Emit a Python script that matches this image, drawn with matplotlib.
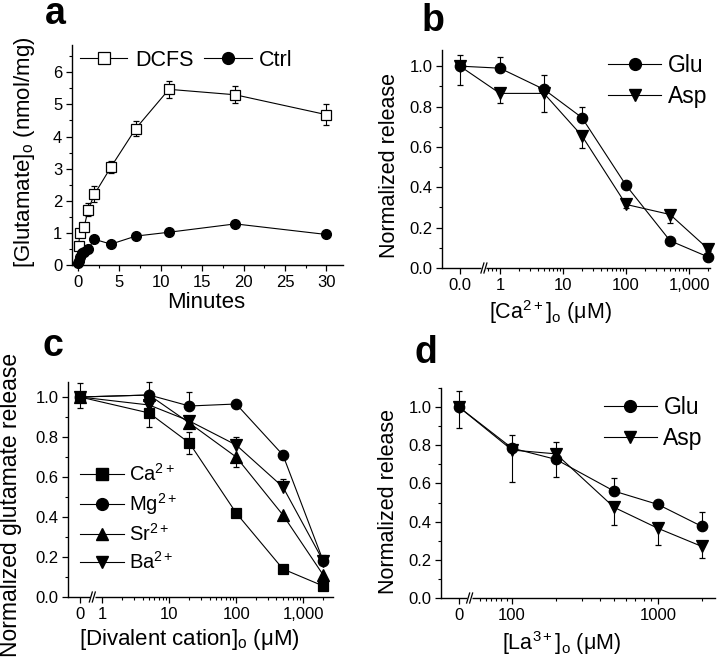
import numpy as np
import matplotlib
matplotlib.use('Agg')
import matplotlib.pyplot as plt
from matplotlib.ticker import FixedLocator, MultipleLocator, FormatStrFormatter, NullFormatter
from matplotlib.lines import Line2D

plt.rcParams['font.family'] = ['Liberation Sans', 'DejaVu Sans']
plt.rcParams['mathtext.fontset'] = 'custom'
plt.rcParams['mathtext.rm'] = 'Liberation Sans'
plt.rcParams['mathtext.it'] = 'Liberation Sans:italic'
plt.rcParams['mathtext.bf'] = 'Liberation Sans:bold'

# ---------------- data ----------------
# panel a
a_dcfs_t = [0.1, 0.25, 0.75, 1.25, 2, 4, 7, 11, 19, 30]
a_dcfs = [0.6, 1.0, 1.17, 1.72, 2.2, 3.05, 4.25, 5.47, 5.3, 4.68]
a_dcfs_err = [0.05, 0.06, 0.1, 0.2, 0.25, 0.18, 0.22, 0.27, 0.27, 0.32]
a_ctrl_t = [0, 0.1, 0.25, 0.5, 0.75, 1.25, 2, 4, 7, 11, 19, 30]
a_ctrl = [0.05, 0.12, 0.25, 0.38, 0.42, 0.5, 0.8, 0.65, 0.9, 1.02, 1.28, 0.95]

# panel b
b_conc = [0, 1, 5, 20, 100, 500, 2000]
b_glu = [1.0, 0.99, 0.885, 0.745, 0.41, 0.135, 0.055]
b_glu_err_up = [0.055, 0.055, 0.07, 0.055, 0.01, 0.01, 0.01]
b_asp = [1.0, 0.865, 0.865, 0.655, 0.315, 0.265, 0.095]
b_asp_err_dn = [0.095, 0.05, 0.09, 0.06, 0.02, 0.04, 0.01]

# panel c
c_conc = [0, 5, 20, 100, 500, 2000]
c_ca = [1.0, 0.92, 0.77, 0.42, 0.14, 0.055]
c_ca_err_dn = [0.055, 0.07, 0.055, 0.0, 0.0, 0.0]
c_ca_err_up = [0.07, 0.0, 0.055, 0.0, 0.0, 0.0]
c_mg = [1.0, 1.01, 0.955, 0.965, 0.71, 0.18]
c_mg_err_dn = [0.0, 0.0, 0.0, 0.0, 0.02, 0.0]
c_mg_err_up = [0.0, 0.065, 0.07, 0.0, 0.02, 0.0]
c_sr = [1.0, 1.01, 0.87, 0.70, 0.41, 0.11]
c_sr_err_dn = [0.0, 0.0, 0.0, 0.05, 0.0, 0.03]
c_sr_err_up = [0.0, 0.0, 0.0, 0.0, 0.0, 0.0]
c_ba = [1.0, 0.96, 0.88, 0.76, 0.55, 0.18]
c_ba_err_dn = [0.0, 0.0, 0.0, 0.0, 0.0, 0.0]
c_ba_err_up = [0.0, 0.0, 0.0, 0.04, 0.04, 0.03]

# panel d
d_conc = [0, 100, 200, 500, 1000, 2000]
d_glu = [1.0, 0.785, 0.726, 0.56, 0.49, 0.375]
d_glu_err_dn = [0.11, 0.0, 0.09, 0.0, 0.0, 0.0]
d_glu_err_up = [0.085, 0.07, 0.09, 0.07, 0.005, 0.075]
d_asp = [1.0, 0.775, 0.755, 0.475, 0.365, 0.27]
d_asp_err_dn = [0.0, 0.165, 0.0, 0.095, 0.085, 0.06]
d_asp_err_up = [0.0, 0.0, 0.0, 0.0, 0.0, 0.0]

# ---------------- figure ----------------
W, H = 720, 659
fig = plt.figure(figsize=(7.2, 6.59), dpi=100)

def axes_px(left, top, right, bottom):
    return fig.add_axes([left / W, 1 - bottom / H, (right - left) / W, (bottom - top) / H])

axA = axes_px(72, 45, 343, 265)
axB = axes_px(442, 50, 710, 268)
axC = axes_px(68, 382, 333, 597)
axD = axes_px(441, 388, 715, 598)

LW = 0.8
TICK_FS = 12
LAB_FS = 15.5
K = 'black'

def style(ax):
    for s in ['top', 'right']:
        ax.spines[s].set_visible(False)
    for s in ['left', 'bottom']:
        ax.spines[s].set_linewidth(1.0)
    ax.tick_params(which='major', direction='out', length=4, width=0.9, labelsize=TICK_FS, pad=3)
    ax.tick_params(which='minor', direction='out', length=2.2, width=0.8)

def xlabel_at(ax, text, fs, xfrac, yfrac):
    ax.set_xlabel(text, fontsize=fs)
    ax.xaxis.set_label_coords(xfrac, yfrac)
    ax.xaxis.label.set_verticalalignment('baseline')

def ebar(ax, x, y, lo, up, marker, ms, mfc='black', z=3):
    ax.errorbar(x, y, yerr=[lo, up], fmt='-', color=K, lw=LW, marker=marker, ms=ms,
                mfc=mfc, mec=K, mew=0.9, ecolor=K, elinewidth=0.8, capsize=2.5,
                capthick=0.8, clip_on=False, zorder=z)

def break_mark(ax, xdata):
    xa = ax.transAxes.inverted().transform(ax.transData.transform((xdata, 0)))[0]
    tr = ax.transAxes
    bb = ax.get_window_extent()
    dx = 3.0 / bb.width
    dy = 5.0 / bb.height
    ax.plot([xa - 2.5 * dx / 3, xa + 2.5 * dx / 3], [0, 0], color='white', lw=2.5,
            transform=tr, clip_on=False, zorder=5, solid_capstyle='butt')
    for off in (-dx / 2, dx / 2):
        ax.plot([xa + off - dx / 2, xa + off + dx / 2], [-dy, dy], color=K, lw=0.9,
                transform=tr, clip_on=False, zorder=6)

# ---- panel a ----
style(axA)
axA.errorbar(a_dcfs_t, a_dcfs, yerr=a_dcfs_err, fmt='-', color=K, lw=LW, marker='s', ms=7,
             mfc='white', mec=K, mew=0.9, ecolor=K, elinewidth=0.8, capsize=2.5,
             capthick=0.8, zorder=3, clip_on=False)
axA.plot(a_ctrl_t, a_ctrl, '-', color=K, lw=LW, marker='o', ms=7, mfc=K, mec=K,
         zorder=4, clip_on=False)
axA.set_xlim(-0.7, 32)
axA.set_ylim(0, 6.85)
axA.xaxis.set_major_locator(FixedLocator([0, 5, 10, 15, 20, 25, 30]))
axA.xaxis.set_minor_locator(MultipleLocator(2.5))
axA.yaxis.set_major_locator(FixedLocator([0, 1, 2, 3, 4, 5, 6]))
axA.yaxis.set_minor_locator(MultipleLocator(0.5))
xlabel_at(axA, 'Minutes', 16, 0.494, -0.195)
axA.set_ylabel(r'[Glutamate]$_\mathregular{o}$ (nmol/mg)', fontsize=16)
axA.yaxis.set_label_coords(-0.13, 0.51)
ha = [Line2D([], [], color=K, lw=LW, marker='s', ms=8, mfc='white', mec=K, mew=0.9),
      Line2D([], [], color=K, lw=LW, marker='o', ms=8.5, mfc=K, mec=K)]
axA.legend(ha, ['DCFS', 'Ctrl'], ncol=2, loc='center left', bbox_to_anchor=(0.03, 0.93),
           frameon=False, fontsize=15.5, handlelength=2.2, handletextpad=0.35,
           columnspacing=0.5, borderpad=0, borderaxespad=0)

# ---- panel b ----
style(axB)
axB.set_xscale('symlog', linthresh=1, linscale=0.57)
axB.set_xlim(-0.45, 2150)
axB.set_ylim(0, 1.08)
ebar(axB, b_conc, b_glu, [0] * 7, b_glu_err_up, 'o', 7.5)
ebar(axB, b_conc, b_asp, b_asp_err_dn, [0] * 7, 'v', 8)
axB.xaxis.set_major_locator(FixedLocator([0, 1, 10, 100, 1000]))
axB.set_xticklabels(['0.0', '1', '10', '100', '1,000'])
axB.xaxis.set_minor_locator(FixedLocator([0.6, 0.7, 0.8, 0.9] + list(range(2, 10)) +
                                         list(range(20, 100, 10)) + list(range(200, 1000, 100)) + [2000]))
axB.xaxis.set_minor_formatter(NullFormatter())
axB.yaxis.set_major_locator(MultipleLocator(0.2))
axB.yaxis.set_minor_locator(MultipleLocator(0.1))
axB.yaxis.set_major_formatter(FormatStrFormatter('%.1f'))
xlabel_at(axB, r'[Ca$^{\mathregular{2+}}$]$_\mathregular{o}$ (μM)', LAB_FS, 0.403, -0.234)
axB.set_ylabel('Normalized release', fontsize=LAB_FS)
axB.yaxis.set_label_coords(-0.157, 0.47)
h = [Line2D([], [], color=K, lw=LW, marker='o', ms=8.5, mfc=K, mec=K),
     Line2D([], [], color=K, lw=LW, marker='v', ms=9, mfc=K, mec=K)]
axB.legend(h, ['Glu', 'Asp'], loc='center right', bbox_to_anchor=(0.99, 0.858), frameon=False,
           fontsize=16.5, handlelength=2.3, handletextpad=0.3, labelspacing=0.35,
           borderpad=0, borderaxespad=0)

# ---- panel c ----
style(axC)
axC.set_xscale('symlog', linthresh=1, linscale=0.30)
axC.set_xlim(-0.54, 2800)
axC.set_ylim(0, 1.075)
ebar(axC, c_conc, c_ba, c_ba_err_dn, c_ba_err_up, 'v', 8, z=3)
ebar(axC, c_conc, c_sr, c_sr_err_dn, c_sr_err_up, '^', 8, z=4)
ebar(axC, c_conc, c_mg, c_mg_err_dn, c_mg_err_up, 'o', 7.5, z=3.5)
ebar(axC, c_conc, c_ca, c_ca_err_dn, c_ca_err_up, 's', 7, z=5)
axC.xaxis.set_major_locator(FixedLocator([0, 1, 10, 100, 1000]))
axC.set_xticklabels(['0', '1', '10', '100', '1,000'])
axC.xaxis.set_minor_locator(FixedLocator(list(range(2, 10)) + list(range(20, 100, 10)) +
                                         list(range(200, 1000, 100)) + [2000]))
axC.xaxis.set_minor_formatter(NullFormatter())
axC.yaxis.set_major_locator(MultipleLocator(0.2))
axC.yaxis.set_minor_locator(MultipleLocator(0.1))
axC.yaxis.set_major_formatter(FormatStrFormatter('%.1f'))
xlabel_at(axC, r'[Divalent cation]$_\mathregular{o}$ (μM)', 16, 0.457, -0.223)
axC.set_ylabel('Normalized glutamate release', fontsize=16.5)
axC.yaxis.set_label_coords(-0.174, 0.43)
hc = [Line2D([], [], color=K, lw=LW, marker=m, ms=s, mfc=K, mec=K)
      for m, s in [('s', 8), ('o', 8.5), ('^', 9), ('v', 9)]]
axC.legend(hc, [r'Ca$^{\mathregular{2+}}$', r'Mg$^{\mathregular{2+}}$', r'Sr$^{\mathregular{2+}}$',
                r'Ba$^{\mathregular{2+}}$'],
           loc='center left', bbox_to_anchor=(0.045, 0.367), frameon=False, fontsize=14.5,
           handlelength=2.2, handletextpad=0.25, labelspacing=0.3, borderpad=0, borderaxespad=0)

# ---- panel d ----
style(axD)
axD.set_xscale('symlog', linthresh=100, linscale=0.327)
axD.set_xlim(-34, 2460)
axD.set_ylim(0, 1.1)
ebar(axD, d_conc, d_glu, d_glu_err_dn, d_glu_err_up, 'o', 7.5)
ebar(axD, d_conc, d_asp, d_asp_err_dn, d_asp_err_up, 'v', 8)
axD.xaxis.set_major_locator(FixedLocator([0, 100, 1000]))
axD.set_xticklabels(['0', '100', '1000'])
axD.xaxis.set_minor_locator(FixedLocator([40, 50, 60, 70, 80, 90] +
                                         list(range(200, 1000, 100)) + [2000]))
axD.xaxis.set_minor_formatter(NullFormatter())
axD.yaxis.set_major_locator(MultipleLocator(0.2))
axD.yaxis.set_minor_locator(MultipleLocator(0.1))
axD.yaxis.set_major_formatter(FormatStrFormatter('%.1f'))
xlabel_at(axD, r'[La$^{\mathregular{3+}}$]$_\mathregular{o}$ (μM)', LAB_FS, 0.44, -0.248)
axD.set_ylabel('Normalized release', fontsize=LAB_FS)
axD.yaxis.set_label_coords(-0.153, 0.46)
axD.legend(h, ['Glu', 'Asp'], loc='center right', bbox_to_anchor=(0.956, 0.833), frameon=False,
           fontsize=16.5, handlelength=2.3, handletextpad=0.3, labelspacing=0.35,
           borderpad=0, borderaxespad=0)

# break marks
break_mark(axB, 0.6)
break_mark(axC, 0.55)
break_mark(axD, 20)

# panel letters
for lab, x, y in [('a', 45, 24), ('b', 422, 31), ('c', 43, 356), ('d', 415, 363)]:
    fig.text(x / W, 1 - y / H, lab, fontsize=27, fontweight='bold', va='baseline', ha='left')

fig.savefig('out.png', dpi=100)
